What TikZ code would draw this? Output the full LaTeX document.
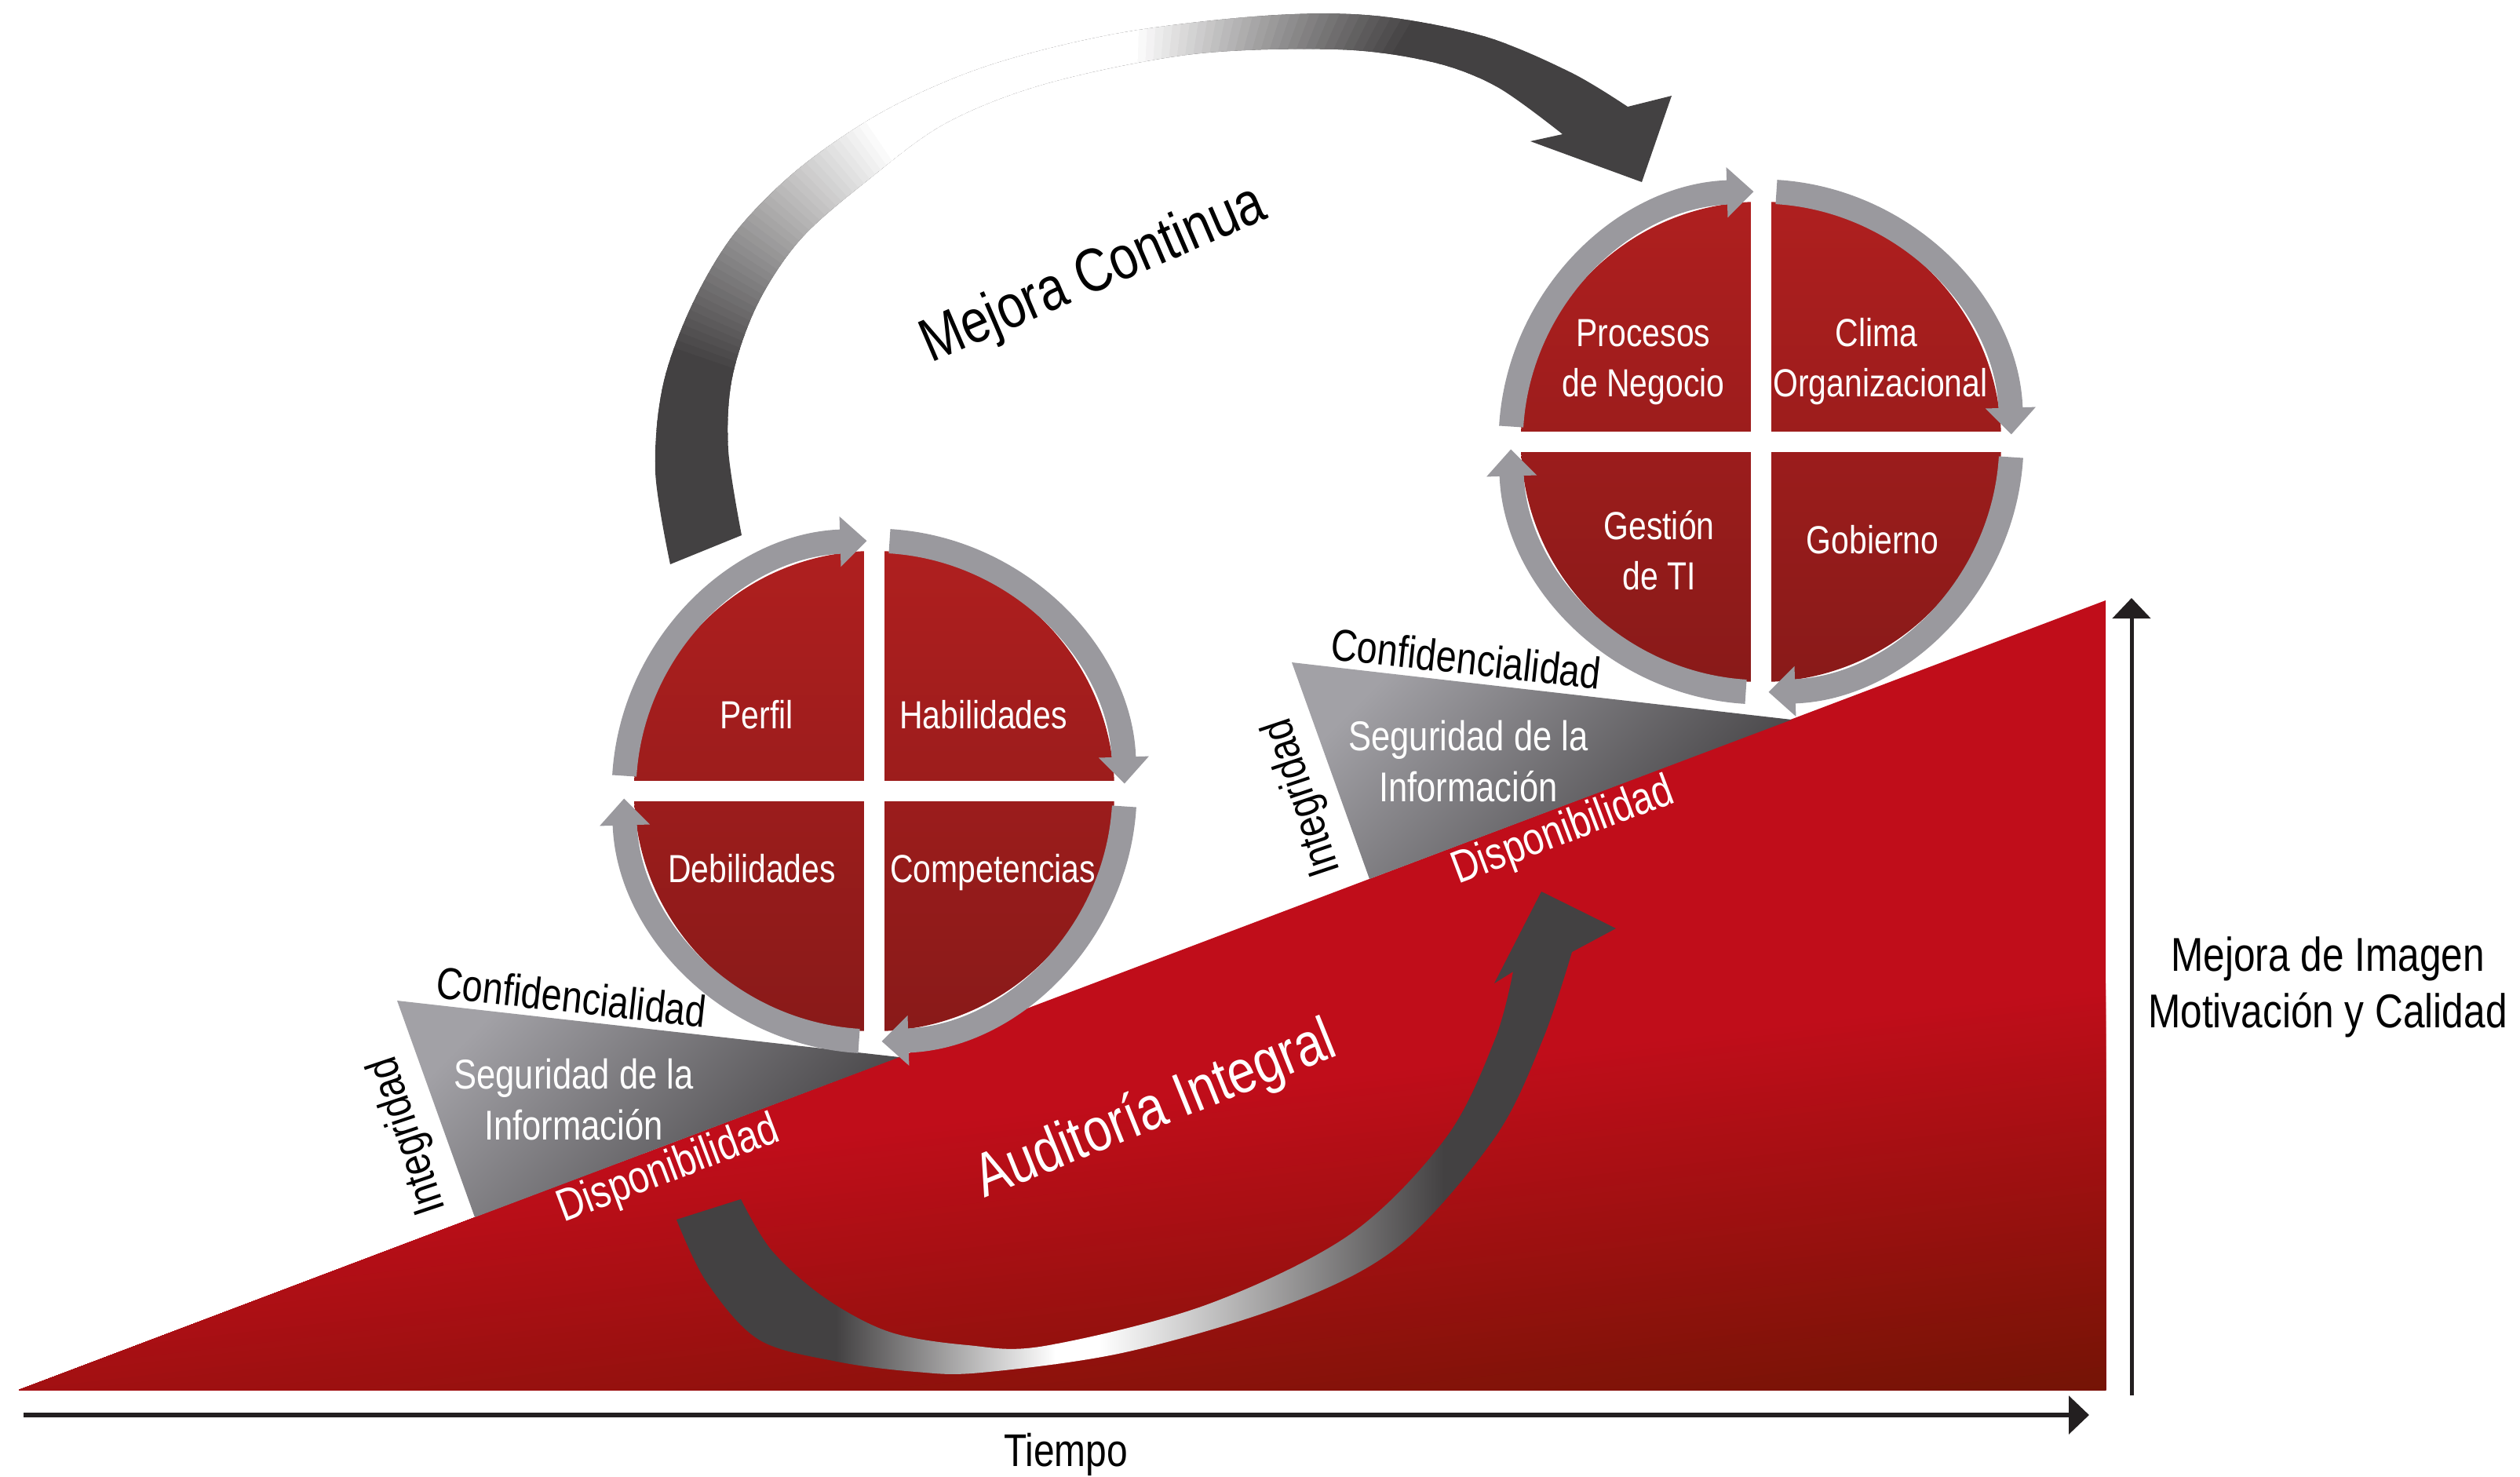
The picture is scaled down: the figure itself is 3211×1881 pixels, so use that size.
\documentclass[tikz,border=0pt]{standalone}
\usepackage{fontspec}
\setmainfont[FakeStretch=0.82]{Liberation Sans}
\usetikzlibrary{arrows.meta,calc}
\definecolor{rb}{RGB}{192,13,26}
\definecolor{rd}{RGB}{116,20,5}
\definecolor{dk}{RGB}{67,65,66}
\definecolor{ringc}{RGB}{154,153,158}
\definecolor{q1}{RGB}{175,31,31}
\definecolor{q2}{RGB}{137,26,25}
\definecolor{gl}{RGB}{162,161,166}
\definecolor{gm}{RGB}{88,86,89}
\definecolor{gd}{RGB}{66,64,66}
\definecolor{axc}{RGB}{35,31,32}
\newcommand\fsz[1]{\fontsize{#1}{#1}\selectfont}
\begin{document}
\begin{tikzpicture}[x=0.01cm, y=-0.01cm,
  qtxt/.style={text=white, font=\fsz{14.2}, inner sep=0pt, anchor=base},
  segtxt/.style={text=white, font=\fsz{15.1}, inner sep=0pt, anchor=base},
  blk/.style={text=black, font=\fsz{16.2}, inner sep=0pt},
  disptxt/.style={text=white, font=\fsz{16.5}, inner sep=0pt, rotate=20.7},
  bigtxt/.style={font=\fsz{22.2}, inner sep=0pt, anchor=base},
  axtxt/.style={font=\fsz{17.2}, inner sep=0pt, anchor=base},
  ringarr/.style={draw=ringc, line width=0.31cm, -{Triangle[width=0.62cm,length=0.34cm]}},
  axarr/.style={draw=axc, -{Triangle[length=0.26cm,width=0.48cm]}},
  graytri/.style={top color=gl, middle color=gm, bottom color=gd, shading angle=45}
]
\useasboundingbox (0,0) rectangle (3211,1881);

% ---------- big red triangle ----------
\coordinate (tA) at (24,1771);
\coordinate (tB) at (2683,765);
\coordinate (tC) at (2683,1771);
\begin{scope}
  \clip (tA) -- (tB) -- (tC) -- cycle;
  \fill[rb] (0,700) rectangle (2700,1800);
  \foreach \s in {1566,1574,...,2090}{
    \pgfmathsetmacro\t{min(100,(\s-1566)/518*100)}
    \fill[rd!\t!rb] (0,\s) -- (2700,\s-314.8) -- (2700,2000) -- (0,2000) -- cycle;
  }
\end{scope}

% ---------- gray triangles ----------
\coordinate (g1a) at (506,1275);
\coordinate (g1b) at (605,1551);
\coordinate (g1c) at (1146,1347);
\coordinate (g2a) at (1646,844);
\coordinate (g2b) at (1745,1120);
\coordinate (g2c) at (2283,917);
\shade[graytri] (g1a) -- (g1b) -- (g1c) -- cycle;
\shade[graytri] (g2a) -- (g2b) -- (g2c) -- cycle;

% ---------- bottom swoosh arrow (Auditoria) ----------
\begin{scope}
  \clip plot[smooth, tension=0.55] coordinates {(862,1554) (900,1633) (967,1707) (1067,1735) (1167,1748) (1250,1749) (1434,1723) (1638,1663) (1782,1588) (1905,1449) (1966,1324) (2003,1213)}
    -- (2059,1183) -- (1964,1136) -- (1904,1253) -- (1928,1238)
    -- plot[smooth, tension=0.55] coordinates {(1928,1238) (1905,1324) (1843,1449) (1720,1573) (1536,1663) (1331,1715) (1233,1714) (1133,1697) (1050,1653) (983,1593) (944,1528)} -- cycle;
  \fill[dk] (840,1100) rectangle (1066,1770);
  \shade[left color=dk, right color=white] (1065,1100) rectangle (1345,1770);
  \fill[white] (1344,1100) rectangle (1400,1770);
  \shade[left color=white, right color=dk] (1399,1100) rectangle (1840,1770);
  \fill[dk] (1839,1100) rectangle (2080,1770);
\end{scope}

% ---------- circles ----------
\coordinate (c1) at (1114,1008);
\coordinate (c2) at (2244,563);
\foreach \c in {c1,c2}{
  \begin{scope}
    \clip (\c) circle[radius=306];
    \shade[top color=q1, middle color=q1, bottom color=q2] ($(\c)+(-310,-310)$) rectangle ($(\c)+(310,310)$);
  \end{scope}
  \fill[white] ($(\c)+(-13,-307)$) rectangle ($(\c)+(13,307)$);
  \fill[white] ($(\c)+(-307,-13)$) rectangle ($(\c)+(307,13)$);
  \draw[ringarr] ($(\c)+(-86.5:319)$) arc[start angle=-86.5, end angle=-1.7, radius=319];
  \draw[ringarr] ($(\c)+(3.5:319)$) arc[start angle=3.5, end angle=88.3, radius=319];
  \draw[ringarr] ($(\c)+(93.5:319)$) arc[start angle=93.5, end angle=178.3, radius=319];
  \draw[ringarr] ($(\c)+(-176.5:319)$) arc[start angle=-176.5, end angle=-91.7, radius=319];
}

% ---------- top swoosh arrow (Mejora Continua) ----------
\coordinate (C) at (1430,640);
\begin{scope}
  \clip plot[smooth, tension=0.55] coordinates {(854,719) (835,601) (845,490) (882,388) (937,296) (1020,213) (1131,139) (1261,83) (1427,42) (1612,20) (1751,20) (1890,46) (2001,92) (2074,136)}
    -- (2130,122) -- (2092,232) -- (1950,180) -- (1991,171)
    -- plot[smooth, tension=0.55] coordinates {(1991,171) (1908,111) (1825,79) (1705,63) (1520,69) (1335,106) (1205,157) (1104,231) (1020,305) (965,388) (933,481) (928,573) (945,682)} -- cycle;
  \fill[dk] (700,0) rectangle (2200,800);
  \foreach \a in {50,...,170}{
    \pgfmathsetmacro\w{max(0,min(100,min((161-\a)/38*100,(\a-58)/30*100)))}
    \fill[white!\w!dk] (C) -- ($(C)+(-\a:1500)$) -- ($(C)+(-\a-1.3:1500)$) -- cycle;
  }
\end{scope}

% ---------- quadrant labels ----------
\node[qtxt] (perfil) at (964,928) {Perfil};
\node[qtxt] (habil) at (1253,928) {Habilidades};
\node[qtxt] (debil) at (958,1124) {Debilidades};
\node[qtxt] (compe) at (1265,1124) {Competencias};
\node[qtxt] (proc1) at (2094,441) {Procesos};
\node[qtxt] (proc2) at (2094,505) {de Negocio};
\node[qtxt] (clima1) at (2391,441) {Clima};
\node[qtxt] (clima2) at (2396,505) {Organizacional};
\node[qtxt] (gest1) at (2114,687) {Gestión};
\node[qtxt] (gest2) at (2114,751) {de TI};
\node[qtxt] (gob) at (2386,705) {Gobierno};

% ---------- security triangle labels ----------
\node[blk, anchor=base, rotate=-6.3] (conf1) at (726,1290) {Confidencialidad};
\node[segtxt] (seg1) at (731,1387) {Seguridad de la};
\node[segtxt] (inf1) at (731,1452) {Información};
\node[blk, rotate=108.5] (int1) at (521,1447) {Integridad};
\node[disptxt] (disp1) at (852,1491) {Disponibilidad};

\node[blk, anchor=base, rotate=-6.3] (conf2) at (1866,859) {Confidencialidad};
\node[segtxt] (seg2) at (1871,956) {Seguridad de la};
\node[segtxt] (inf2) at (1871,1021) {Información};
\node[blk, rotate=108.5] (int2) at (1661,1016) {Integridad};
\node[disptxt] (disp2) at (1992,1060) {Disponibilidad};

% ---------- big labels ----------
\node[bigtxt, rotate=23.3] (mc) at (1402,370) {Mejora Continua};
\node[bigtxt, text=white, rotate=22] (ai) at (1481,1435) {Auditoría Integral};

% ---------- axes ----------
\coordinate (hx0) at (30,1803);
\coordinate (hx1) at (2662,1803);
\coordinate (vy0) at (2716,1778);
\coordinate (vy1) at (2716,762);
\draw[axarr, line width=0.06cm] (hx0) -- (hx1);
\draw[axarr, line width=0.05cm] (vy0) -- (vy1);
\node[font=\fsz{16.6}, inner sep=0pt, anchor=base] (tiempo) at (1358,1868) {Tiempo};
\node[axtxt] (mi1) at (2966,1237) {Mejora de Imagen};
\node[axtxt] (mi2) at (2966,1309) {Motivación y Calidad};
\end{tikzpicture}
\end{document}
